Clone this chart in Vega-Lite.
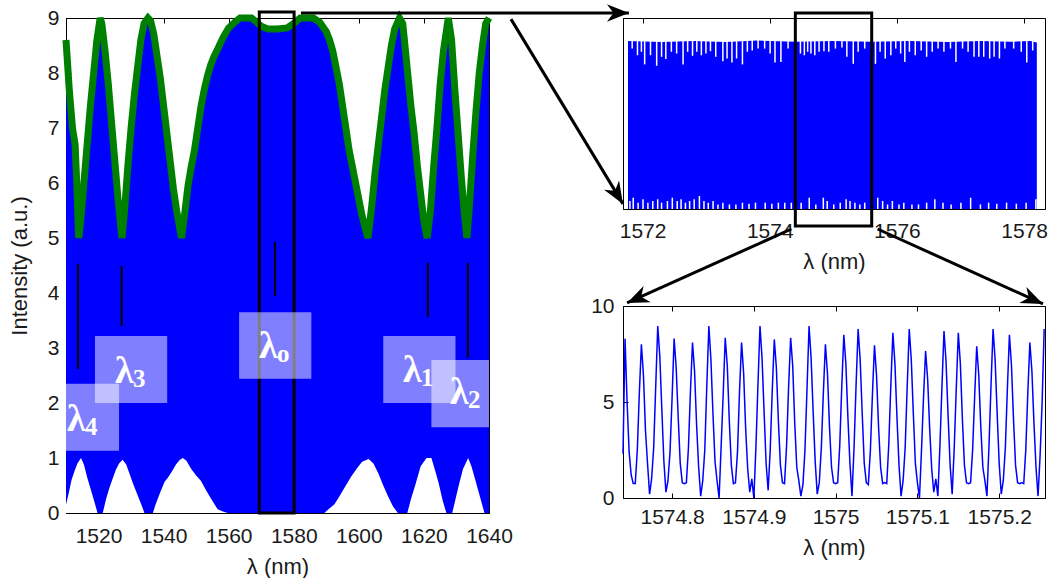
{
 "$schema": "https://vega.github.io/schema/vega-lite/v6.json",
 "background": "white",
 "padding": {"left": 7, "top": 3, "right": 0, "bottom": 0},
 "spacing": 134,
 "bounds": "flush",
 "config": {
  "view": {"stroke": "black", "strokeWidth": 1},
  "axis": {"labelFont": "Liberation Sans", "titleFont": "Liberation Sans", "labelFontSize": 21, "titleFontSize": 22, "titleFontWeight": "normal", "labelColor": "#1a1a1a", "titleColor": "#1a1a1a", "domainColor": "black", "tickColor": "black", "tickSize": -5, "grid": false, "zindex": 1, "labelOverlap": false, "labelFlush": false}
 },
 "datasets": {
  "upper": [{"wl":1510,"I":8.6},{"wl":1511,"I":7.7},{"wl":1512,"I":7.0},{"wl":1512.8,"I":6.7},{"wl":1513.3,"I":6.0},{"wl":1513.9,"I":5.0},{"wl":1514.5,"I":5.3},{"wl":1515.5,"I":6.0},{"wl":1516.5,"I":6.7},{"wl":1517.5,"I":7.4},{"wl":1518.5,"I":8.0},{"wl":1519.5,"I":8.6},{"wl":1520.5,"I":9.0},{"wl":1521,"I":8.9},{"wl":1522,"I":8.4},{"wl":1523,"I":7.8},{"wl":1524,"I":7.1},{"wl":1525,"I":6.4},{"wl":1526,"I":5.7},{"wl":1527.2,"I":5.0},{"wl":1528,"I":5.5},{"wl":1529,"I":6.3},{"wl":1530,"I":7.0},{"wl":1531,"I":7.6},{"wl":1532,"I":8.1},{"wl":1533,"I":8.6},{"wl":1534,"I":8.9},{"wl":1535.2,"I":9.0},{"wl":1536,"I":8.95},{"wl":1537,"I":8.7},{"wl":1538,"I":8.3},{"wl":1539,"I":7.9},{"wl":1540,"I":7.4},{"wl":1541,"I":6.9},{"wl":1542,"I":6.4},{"wl":1543,"I":5.9},{"wl":1544,"I":5.5},{"wl":1545.5,"I":5.0},{"wl":1546.5,"I":5.45},{"wl":1547.5,"I":5.95},{"wl":1548.5,"I":6.3},{"wl":1549.5,"I":6.6},{"wl":1550.5,"I":7.0},{"wl":1551.5,"I":7.4},{"wl":1552.5,"I":7.7},{"wl":1553.5,"I":7.95},{"wl":1554.5,"I":8.15},{"wl":1555.5,"I":8.3},{"wl":1556.5,"I":8.42},{"wl":1557.5,"I":8.55},{"wl":1558.5,"I":8.67},{"wl":1560,"I":8.82},{"wl":1562,"I":8.93},{"wl":1563.5,"I":9.0},{"wl":1567,"I":9.0},{"wl":1568.5,"I":8.93},{"wl":1570,"I":8.85},{"wl":1572,"I":8.8},{"wl":1575,"I":8.8},{"wl":1578,"I":8.82},{"wl":1580,"I":8.9},{"wl":1582,"I":9.0},{"wl":1586,"I":9.0},{"wl":1588,"I":8.92},{"wl":1590,"I":8.75},{"wl":1591,"I":8.6},{"wl":1592,"I":8.4},{"wl":1593,"I":8.1},{"wl":1594,"I":7.8},{"wl":1595,"I":7.4},{"wl":1596,"I":7.0},{"wl":1597,"I":6.6},{"wl":1598,"I":6.3},{"wl":1599,"I":6.0},{"wl":1600,"I":5.7},{"wl":1601,"I":5.4},{"wl":1602.8,"I":5.0},{"wl":1604,"I":5.6},{"wl":1605,"I":6.2},{"wl":1606,"I":6.7},{"wl":1607,"I":7.2},{"wl":1608,"I":7.7},{"wl":1609,"I":8.1},{"wl":1610,"I":8.5},{"wl":1611,"I":8.8},{"wl":1612.5,"I":9.0},{"wl":1613.5,"I":8.9},{"wl":1614,"I":8.6},{"wl":1615,"I":8.0},{"wl":1616,"I":7.4},{"wl":1617,"I":6.9},{"wl":1618,"I":6.3},{"wl":1619,"I":5.8},{"wl":1620,"I":5.3},{"wl":1621,"I":5.0},{"wl":1622,"I":5.5},{"wl":1623,"I":6.3},{"wl":1624,"I":7.0},{"wl":1625,"I":7.8},{"wl":1626,"I":8.4},{"wl":1627.5,"I":9.0},{"wl":1628.5,"I":8.6},{"wl":1629.5,"I":7.7},{"wl":1630.5,"I":6.9},{"wl":1631.5,"I":6.1},{"wl":1632.5,"I":5.4},{"wl":1633.2,"I":5.0},{"wl":1634,"I":5.6},{"wl":1635,"I":6.5},{"wl":1636,"I":7.3},{"wl":1637,"I":8.0},{"wl":1638,"I":8.5},{"wl":1639,"I":8.9},{"wl":1640,"I":9.0}],
  "lower": [{"wl":1510,"I":0.15},{"wl":1510.8,"I":0.35},{"wl":1511.7,"I":0.6},{"wl":1512.6,"I":0.76},{"wl":1513.5,"I":0.9},{"wl":1514.6,"I":1.0},{"wl":1515.5,"I":0.88},{"wl":1516.5,"I":0.65},{"wl":1517.5,"I":0.45},{"wl":1518.5,"I":0.25},{"wl":1519.7,"I":0},{"wl":1521.3,"I":0},{"wl":1522.3,"I":0.25},{"wl":1523.3,"I":0.45},{"wl":1524.3,"I":0.62},{"wl":1525.3,"I":0.78},{"wl":1526.3,"I":0.9},{"wl":1527.4,"I":0.97},{"wl":1528.5,"I":0.88},{"wl":1529.5,"I":0.72},{"wl":1530.5,"I":0.55},{"wl":1531.5,"I":0.4},{"wl":1532.5,"I":0.25},{"wl":1533.5,"I":0.1},{"wl":1534.1,"I":0},{"wl":1536.7,"I":0},{"wl":1537.5,"I":0.15},{"wl":1539,"I":0.38},{"wl":1540.3,"I":0.57},{"wl":1541.3,"I":0.64},{"wl":1542.5,"I":0.75},{"wl":1543.8,"I":0.88},{"wl":1545,"I":0.97},{"wl":1545.9,"I":1.0},{"wl":1547,"I":0.95},{"wl":1548.5,"I":0.8},{"wl":1550,"I":0.68},{"wl":1551.5,"I":0.58},{"wl":1553,"I":0.42},{"wl":1554.5,"I":0.27},{"wl":1556.6,"I":0.07},{"wl":1558,"I":0.03},{"wl":1559.7,"I":0},{"wl":1589.4,"I":0},{"wl":1590.5,"I":0.06},{"wl":1592.5,"I":0.16},{"wl":1594,"I":0.3},{"wl":1596,"I":0.5},{"wl":1597.7,"I":0.67},{"wl":1599.5,"I":0.82},{"wl":1601,"I":0.93},{"wl":1603,"I":0.98},{"wl":1604.5,"I":0.9},{"wl":1606,"I":0.72},{"wl":1607.5,"I":0.5},{"wl":1609,"I":0.3},{"wl":1610.5,"I":0.12},{"wl":1612,"I":0},{"wl":1614.9,"I":0},{"wl":1616,"I":0.25},{"wl":1617.3,"I":0.5},{"wl":1619,"I":0.85},{"wl":1620.8,"I":1.0},{"wl":1622.3,"I":1.0},{"wl":1623.3,"I":0.8},{"wl":1624.5,"I":0.55},{"wl":1625.8,"I":0.22},{"wl":1626.9,"I":0},{"wl":1628.7,"I":0},{"wl":1629.7,"I":0.25},{"wl":1630.7,"I":0.5},{"wl":1632,"I":0.8},{"wl":1633.6,"I":1.0},{"wl":1634.6,"I":0.85},{"wl":1635.8,"I":0.6},{"wl":1637.2,"I":0.3},{"wl":1638.6,"I":0},{"wl":1640,"I":0}],
  "markers": [{"wl":1513.7,"a":4.53,"b":2.62},{"wl":1527.1,"a":4.49,"b":3.4},{"wl":1574.2,"a":4.93,"b":3.95},{"wl":1621.2,"a":4.55,"b":3.56},{"wl":1633.5,"a":4.55,"b":2.82}],
  "boxes": [{"wl":1510,"wl2":1526.3,"I":1.13,"I2":2.35},{"wl":1518.9,"wl2":1541.1,"I":2.0,"I2":3.22},{"wl":1563.2,"wl2":1585.4,"I":2.44,"I2":3.65},{"wl":1607.5,"wl2":1629.7,"I":2.0,"I2":3.22},{"wl":1622.3,"wl2":1640,"I":1.56,"I2":2.78}],
  "labels": [{"wl":1510.3,"I":1.49,"sym":"λ","sub":"4"},{"wl":1525.06,"I":2.36,"sym":"λ","sub":"3"},{"wl":1569.3,"I":2.82,"sym":"λ","sub":"o"},{"wl":1613.6,"I":2.38,"sym":"λ","sub":"1"},{"wl":1628.0,"I":1.98,"sym":"λ","sub":"2"}],
  "arrL": [{"wl":1582.22,"I":9.09,"wl2":1683.0,"I2":9.09},{"wl":1646.76,"I":8.98,"wl2":1681.17,"I2":5.62}],
  "trTop": [{"wl":1571.77,"I":8.8},{"wl":1572.3,"I":8.75},{"wl":1572.8,"I":8.8},{"wl":1573.3,"I":8.74},{"wl":1573.8,"I":8.82},{"wl":1574.4,"I":8.76},{"wl":1575.0,"I":8.8},{"wl":1575.6,"I":8.76},{"wl":1576.2,"I":8.8},{"wl":1576.8,"I":8.74},{"wl":1577.3,"I":8.8},{"wl":1577.8,"I":8.76},{"wl":1578.1,"I":8.8},{"wl":1578.2,"I":8.72}],
  "trNotch": [{"wl":1571.836,"d":8.4,"t":8.9},{"wl":1571.919,"d":8.05,"t":8.9},{"wl":1571.981,"d":8.23,"t":8.9},{"wl":1572.032,"d":7.57,"t":8.9},{"wl":1572.124,"d":8.05,"t":8.9},{"wl":1572.221,"d":7.5,"t":8.9},{"wl":1572.298,"d":7.97,"t":8.9},{"wl":1572.365,"d":7.85,"t":8.9},{"wl":1572.452,"d":8.23,"t":8.9},{"wl":1572.535,"d":8.14,"t":8.9},{"wl":1572.636,"d":7.57,"t":8.9},{"wl":1572.708,"d":8.23,"t":8.9},{"wl":1572.785,"d":8.02,"t":8.9},{"wl":1572.852,"d":8.23,"t":8.9},{"wl":1572.924,"d":8.05,"t":8.9},{"wl":1572.996,"d":8.14,"t":8.9},{"wl":1573.067,"d":8.26,"t":8.9},{"wl":1573.15,"d":7.97,"t":8.9},{"wl":1573.262,"d":7.74,"t":8.9},{"wl":1573.328,"d":7.88,"t":8.9},{"wl":1573.405,"d":7.67,"t":8.9},{"wl":1573.478,"d":7.88,"t":8.9},{"wl":1573.57,"d":7.57,"t":8.9},{"wl":1573.647,"d":8.23,"t":8.9},{"wl":1573.724,"d":8.3,"t":8.9},{"wl":1573.816,"d":8.4,"t":8.9},{"wl":1573.919,"d":8.4,"t":8.9},{"wl":1574.005,"d":8.14,"t":8.9},{"wl":1574.082,"d":7.67,"t":8.9},{"wl":1574.175,"d":7.7,"t":8.9},{"wl":1574.288,"d":8.4,"t":8.9},{"wl":1574.482,"d":8.14,"t":8.9},{"wl":1574.544,"d":8.05,"t":8.9},{"wl":1574.596,"d":8.23,"t":8.9},{"wl":1574.647,"d":8.14,"t":8.9},{"wl":1574.708,"d":8.05,"t":8.9},{"wl":1574.775,"d":8.23,"t":8.9},{"wl":1574.852,"d":8.26,"t":8.9},{"wl":1574.928,"d":8.23,"t":8.9},{"wl":1575.032,"d":8.4,"t":8.9},{"wl":1575.135,"d":8.45,"t":8.9},{"wl":1575.212,"d":7.97,"t":8.9},{"wl":1575.313,"d":7.6,"t":8.9},{"wl":1575.39,"d":8.23,"t":8.9},{"wl":1575.493,"d":8.4,"t":8.9},{"wl":1575.662,"d":7.6,"t":8.9},{"wl":1575.735,"d":8.23,"t":8.9},{"wl":1575.816,"d":7.88,"t":8.9},{"wl":1575.904,"d":8.05,"t":8.9},{"wl":1575.981,"d":8.4,"t":8.9},{"wl":1576.058,"d":8.14,"t":8.9},{"wl":1576.124,"d":7.7,"t":8.9},{"wl":1576.196,"d":8.23,"t":8.9},{"wl":1576.288,"d":8.05,"t":8.9},{"wl":1576.381,"d":8.3,"t":8.9},{"wl":1576.467,"d":7.97,"t":8.9},{"wl":1576.555,"d":8.23,"t":8.9},{"wl":1576.647,"d":8.4,"t":8.9},{"wl":1576.739,"d":8.23,"t":8.9},{"wl":1576.842,"d":8.4,"t":8.9},{"wl":1576.928,"d":7.7,"t":8.9},{"wl":1577.032,"d":8.4,"t":8.9},{"wl":1577.119,"d":8.23,"t":8.9},{"wl":1577.212,"d":7.97,"t":8.9},{"wl":1577.288,"d":7.97,"t":8.9},{"wl":1577.365,"d":7.97,"t":8.9},{"wl":1577.458,"d":7.88,"t":8.9},{"wl":1577.528,"d":7.97,"t":8.9},{"wl":1577.612,"d":7.88,"t":8.9},{"wl":1577.698,"d":8.4,"t":8.9},{"wl":1577.836,"d":8.4,"t":8.9},{"wl":1577.955,"d":8.23,"t":8.9},{"wl":1578.042,"d":7.67,"t":8.9},{"wl":1578.135,"d":8.3,"t":8.9}],
  "trLow": [{"wl":1571.8,"h":0.42},{"wl":1571.852,"h":0.59},{"wl":1571.929,"h":0.33},{"wl":1572.006,"h":0.51},{"wl":1572.083,"h":0.33},{"wl":1572.16,"h":0.42},{"wl":1572.237,"h":0.51},{"wl":1572.298,"h":0.33},{"wl":1572.39,"h":0.42},{"wl":1572.467,"h":0.59},{"wl":1572.544,"h":0.42},{"wl":1572.605,"h":0.51},{"wl":1572.673,"h":0.33},{"wl":1572.739,"h":0.42},{"wl":1572.811,"h":0.51},{"wl":1572.893,"h":0.68},{"wl":1572.965,"h":0.42},{"wl":1573.032,"h":0.33},{"wl":1573.108,"h":0.42},{"wl":1573.185,"h":0.24},{"wl":1573.262,"h":0.33},{"wl":1573.365,"h":0.24},{"wl":1573.467,"h":0.24},{"wl":1573.57,"h":0.33},{"wl":1573.673,"h":0.28},{"wl":1573.775,"h":0.33},{"wl":1573.928,"h":0.33},{"wl":1574.032,"h":0.28},{"wl":1574.135,"h":0.33},{"wl":1574.236,"h":0.33},{"wl":1574.339,"h":0.33},{"wl":1574.493,"h":0.33},{"wl":1574.621,"h":0.59},{"wl":1574.724,"h":0.24},{"wl":1574.842,"h":0.59},{"wl":1574.903,"h":0.42},{"wl":1575.006,"h":0.24},{"wl":1575.108,"h":0.33},{"wl":1575.201,"h":0.51},{"wl":1575.262,"h":0.42},{"wl":1575.339,"h":0.33},{"wl":1575.416,"h":0.24},{"wl":1575.493,"h":0.33},{"wl":1575.698,"h":0.59},{"wl":1575.775,"h":0.42},{"wl":1575.852,"h":0.24},{"wl":1575.928,"h":0.42},{"wl":1576.032,"h":0.24},{"wl":1576.108,"h":0.33},{"wl":1576.236,"h":0.24},{"wl":1576.339,"h":0.24},{"wl":1576.467,"h":0.33},{"wl":1576.596,"h":0.51},{"wl":1576.724,"h":0.33},{"wl":1576.852,"h":0.24},{"wl":1577.006,"h":0.33},{"wl":1577.159,"h":0.59},{"wl":1577.313,"h":0.24},{"wl":1577.442,"h":0.33},{"wl":1577.57,"h":0.28},{"wl":1577.724,"h":0.33},{"wl":1577.878,"h":0.28},{"wl":1578.032,"h":0.33},{"wl":1578.185,"h":0.51}],
  "br": [{"x":1574.74,"y":2.3},{"x":1574.7425,"y":8.3},{"x":1574.745,"y":5.0},{"x":1574.7475,"y":2.4},{"x":1574.75,"y":1.2},{"x":1574.7525,"y":0.75},{"x":1574.755,"y":0.75},{"x":1574.7575,"y":2.5},{"x":1574.76,"y":5.5},{"x":1574.7625,"y":8.0},{"x":1574.765,"y":6.4},{"x":1574.7675,"y":3.5},{"x":1574.77,"y":1.8},{"x":1574.7725,"y":0.2},{"x":1574.775,"y":1.0},{"x":1574.7775,"y":2.6},{"x":1574.78,"y":5.8},{"x":1574.7825,"y":8.96},{"x":1574.785,"y":7.4},{"x":1574.7875,"y":4.6},{"x":1574.79,"y":1.9},{"x":1574.7925,"y":0.3},{"x":1574.795,"y":0.9},{"x":1574.7975,"y":2.4},{"x":1574.8,"y":5.2},{"x":1574.8025,"y":8.3},{"x":1574.805,"y":6.8},{"x":1574.8075,"y":4.2},{"x":1574.81,"y":1.8},{"x":1574.8125,"y":0.8},{"x":1574.815,"y":0.75},{"x":1574.8175,"y":0.8},{"x":1574.82,"y":2.6},{"x":1574.8225,"y":5.6},{"x":1574.825,"y":8.1},{"x":1574.8275,"y":6.6},{"x":1574.83,"y":3.8},{"x":1574.8325,"y":1.6},{"x":1574.835,"y":0.1},{"x":1574.8375,"y":0.9},{"x":1574.84,"y":2.5},{"x":1574.8425,"y":5.9},{"x":1574.845,"y":8.96},{"x":1574.8475,"y":7.2},{"x":1574.85,"y":4.4},{"x":1574.8525,"y":1.9},{"x":1574.855,"y":0.9},{"x":1574.8575,"y":0.0},{"x":1574.86,"y":2.7},{"x":1574.8625,"y":5.4},{"x":1574.865,"y":8.35},{"x":1574.8675,"y":6.9},{"x":1574.87,"y":4.0},{"x":1574.8725,"y":1.7},{"x":1574.875,"y":0.75},{"x":1574.8775,"y":0.8},{"x":1574.88,"y":2.4},{"x":1574.8825,"y":5.6},{"x":1574.885,"y":8.1},{"x":1574.8875,"y":6.5},{"x":1574.89,"y":3.6},{"x":1574.8925,"y":1.5},{"x":1574.895,"y":0.3},{"x":1574.8975,"y":1.0},{"x":1574.9,"y":0.0},{"x":1574.9025,"y":2.6},{"x":1574.905,"y":5.9},{"x":1574.9075,"y":8.96},{"x":1574.91,"y":7.3},{"x":1574.9125,"y":4.5},{"x":1574.915,"y":1.8},{"x":1574.9175,"y":0.4},{"x":1574.92,"y":2.5},{"x":1574.9225,"y":5.6},{"x":1574.925,"y":8.26},{"x":1574.9275,"y":6.8},{"x":1574.93,"y":4.0},{"x":1574.9325,"y":1.7},{"x":1574.935,"y":0.8},{"x":1574.9375,"y":0.75},{"x":1574.94,"y":2.7},{"x":1574.9425,"y":5.8},{"x":1574.945,"y":8.35},{"x":1574.9475,"y":6.9},{"x":1574.95,"y":3.9},{"x":1574.9525,"y":1.6},{"x":1574.955,"y":0.9},{"x":1574.9575,"y":0.1},{"x":1574.96,"y":0.7},{"x":1574.9625,"y":2.5},{"x":1574.965,"y":5.7},{"x":1574.9675,"y":8.96},{"x":1574.97,"y":7.3},{"x":1574.9725,"y":4.5},{"x":1574.975,"y":1.9},{"x":1574.9775,"y":0.2},{"x":1574.98,"y":0.8},{"x":1574.9825,"y":2.6},{"x":1574.985,"y":5.5},{"x":1574.9875,"y":8.0},{"x":1574.99,"y":6.5},{"x":1574.9925,"y":3.7},{"x":1574.995,"y":1.6},{"x":1574.9975,"y":0.8},{"x":1575.0,"y":0.75},{"x":1575.0025,"y":0.8},{"x":1575.005,"y":2.7},{"x":1575.0075,"y":5.8},{"x":1575.01,"y":8.5},{"x":1575.0125,"y":7.0},{"x":1575.015,"y":4.2},{"x":1575.0175,"y":1.8},{"x":1575.02,"y":0.1},{"x":1575.0225,"y":2.6},{"x":1575.025,"y":5.9},{"x":1575.0275,"y":8.8},{"x":1575.03,"y":7.2},{"x":1575.0325,"y":4.4},{"x":1575.035,"y":1.8},{"x":1575.0375,"y":0.8},{"x":1575.04,"y":0.7},{"x":1575.0425,"y":2.5},{"x":1575.045,"y":5.4},{"x":1575.0475,"y":7.95},{"x":1575.05,"y":6.4},{"x":1575.0525,"y":3.7},{"x":1575.055,"y":1.6},{"x":1575.0575,"y":0.75},{"x":1575.06,"y":0.8},{"x":1575.0625,"y":0.75},{"x":1575.065,"y":2.8},{"x":1575.0675,"y":5.9},{"x":1575.07,"y":8.6},{"x":1575.0725,"y":7.0},{"x":1575.075,"y":4.2},{"x":1575.0775,"y":1.7},{"x":1575.08,"y":0.1},{"x":1575.0825,"y":0.9},{"x":1575.085,"y":2.6},{"x":1575.0875,"y":5.8},{"x":1575.09,"y":8.8},{"x":1575.0925,"y":7.2},{"x":1575.095,"y":4.4},{"x":1575.0975,"y":1.8},{"x":1575.1,"y":0.8},{"x":1575.1025,"y":0.0},{"x":1575.105,"y":2.5},{"x":1575.1075,"y":5.3},{"x":1575.11,"y":7.65},{"x":1575.1125,"y":6.2},{"x":1575.115,"y":3.6},{"x":1575.1175,"y":1.5},{"x":1575.12,"y":0.3},{"x":1575.1225,"y":1.0},{"x":1575.125,"y":0.1},{"x":1575.1275,"y":2.7},{"x":1575.13,"y":5.8},{"x":1575.1325,"y":8.7},{"x":1575.135,"y":7.1},{"x":1575.1375,"y":4.3},{"x":1575.14,"y":1.7},{"x":1575.1425,"y":0.2},{"x":1575.145,"y":2.6},{"x":1575.1475,"y":5.7},{"x":1575.15,"y":8.6},{"x":1575.1525,"y":7.0},{"x":1575.155,"y":4.1},{"x":1575.1575,"y":1.7},{"x":1575.16,"y":0.8},{"x":1575.1625,"y":0.75},{"x":1575.165,"y":0.8},{"x":1575.1675,"y":2.5},{"x":1575.17,"y":5.3},{"x":1575.1725,"y":7.9},{"x":1575.175,"y":6.4},{"x":1575.1775,"y":3.7},{"x":1575.18,"y":1.6},{"x":1575.1825,"y":0.9},{"x":1575.185,"y":0.1},{"x":1575.1875,"y":2.7},{"x":1575.19,"y":5.9},{"x":1575.1925,"y":8.8},{"x":1575.195,"y":7.2},{"x":1575.1975,"y":4.4},{"x":1575.2,"y":1.8},{"x":1575.2025,"y":0.2},{"x":1575.205,"y":0.9},{"x":1575.2075,"y":2.6},{"x":1575.21,"y":5.7},{"x":1575.2125,"y":8.5},{"x":1575.215,"y":6.9},{"x":1575.2175,"y":4.1},{"x":1575.22,"y":1.7},{"x":1575.2225,"y":0.8},{"x":1575.225,"y":0.75},{"x":1575.2275,"y":0.8},{"x":1575.23,"y":0.75},{"x":1575.2325,"y":2.5},{"x":1575.235,"y":5.5},{"x":1575.2375,"y":8.1},{"x":1575.24,"y":6.6},{"x":1575.2425,"y":3.9},{"x":1575.245,"y":1.6},{"x":1575.2475,"y":0.1},{"x":1575.25,"y":2.2},{"x":1575.2525,"y":5.0},{"x":1575.255,"y":8.8}]
 },
 "hconcat": [
  {
   "width": 423, "height": 495,
   "resolve": {"axis": {"x": "independent"}},
   "layer": [
    {
     "layer": [
      {"data": {"name": "upper"}, "mark": {"type": "area", "color": "#0000ff"},
       "encoding": {
        "x": {"field": "wl", "type": "quantitative", "scale": {"domain": [1510, 1640], "zero": false, "nice": false}, "axis": {"values": [1520,1540,1560,1580,1600,1620,1640], "format": "d", "title": "λ (nm)", "labelPadding": 17, "titlePadding": 10}},
        "y": {"field": "I", "type": "quantitative", "scale": {"domain": [0, 9], "zero": false, "nice": false}, "axis": {"values": [0,1,2,3,4,5,6,7,8,9], "format": "d", "title": "Intensity (a.u.)", "labelPadding": 12, "titlePadding": 16}}
       }},
      {"data": {"name": "lower"}, "mark": {"type": "area", "color": "white"},
       "encoding": {"x": {"field": "wl", "type": "quantitative"}, "y": {"field": "I", "type": "quantitative"}}},
      {"data": {"name": "upper"}, "mark": {"type": "line", "color": "#008000", "strokeWidth": 7},
       "encoding": {"x": {"field": "wl", "type": "quantitative"}, "y": {"field": "I", "type": "quantitative"}}},
      {"data": {"name": "markers"}, "mark": {"type": "rule", "color": "black", "strokeWidth": 2},
       "encoding": {"x": {"field": "wl", "type": "quantitative"}, "y": {"field": "a", "type": "quantitative"}, "y2": {"field": "b"}}},
      {"data": {"values": [{"wl": 1569.4, "wl2": 1580.1, "I": 0, "I2": 9.11}]}, "mark": {"type": "rect", "fill": "white", "fillOpacity": 0, "stroke": "black", "strokeWidth": 3},
       "encoding": {"x": {"field": "wl", "type": "quantitative"}, "x2": {"field": "wl2"}, "y": {"field": "I", "type": "quantitative"}, "y2": {"field": "I2"}}},
      {"data": {"name": "boxes"}, "mark": {"type": "rect", "color": "white", "opacity": 0.5},
       "encoding": {"x": {"field": "wl", "type": "quantitative"}, "x2": {"field": "wl2"}, "y": {"field": "I", "type": "quantitative"}, "y2": {"field": "I2"}}},
      {"data": {"name": "labels"}, "mark": {"type": "text", "align": "left", "baseline": "alphabetic", "font": "Liberation Serif", "fontSize": 38, "fontWeight": "bold", "color": "white"},
       "encoding": {"x": {"field": "wl", "type": "quantitative"}, "y": {"field": "I", "type": "quantitative"}, "text": {"field": "sym"}}},
      {"data": {"name": "labels"}, "mark": {"type": "text", "align": "left", "baseline": "alphabetic", "font": "Liberation Serif", "fontSize": 25, "fontWeight": "bold", "color": "white", "dx": 18, "dy": 4},
       "encoding": {"x": {"field": "wl", "type": "quantitative"}, "y": {"field": "I", "type": "quantitative"}, "text": {"field": "sub"}}},
      {"data": {"name": "arrL"}, "mark": {"type": "rule", "color": "black", "strokeWidth": 3},
       "encoding": {"x": {"field": "wl", "type": "quantitative"}, "y": {"field": "I", "type": "quantitative"}, "x2": {"field": "wl2"}, "y2": {"field": "I2"}}},
      {"data": {"values": [{"wl": 1683.0, "I": 9.09}]}, "mark": {"type": "point", "shape": "M0,0L-1,-0.4L-0.7,0L-1,0.4Z", "size": 1936, "filled": true, "color": "black", "opacity": 1, "angle": 0},
       "encoding": {"x": {"field": "wl", "type": "quantitative"}, "y": {"field": "I", "type": "quantitative"}}},
      {"data": {"values": [{"wl": 1681.17, "I": 5.62}]}, "mark": {"type": "point", "shape": "M0,0L-1,-0.4L-0.7,0L-1,0.4Z", "size": 1936, "filled": true, "color": "black", "opacity": 1, "angle": 58.8},
       "encoding": {"x": {"field": "wl", "type": "quantitative"}, "y": {"field": "I", "type": "quantitative"}}}
     ]
    },
    {"data": {"values": [{"wl": 1510}]}, "mark": {"type": "point", "opacity": 0},
     "encoding": {"x": {"field": "wl", "type": "quantitative", "scale": {"domain": [1510, 1640], "zero": false, "nice": false}, "axis": {"orient": "top", "values": [1520,1540,1560,1580,1600,1620,1640], "labels": false, "title": null}}}}
   ]
  },
  {
   "vconcat": [
    {
     "width": 422, "height": 191,
     "resolve": {"axis": {"x": "independent"}},
     "layer": [
      {
       "layer": [
        {"data": {"name": "trTop"}, "mark": {"type": "area", "color": "#0000ff"},
         "encoding": {
          "x": {"field": "wl", "type": "quantitative", "scale": {"domain": [1571.77, 1578.25], "zero": false, "nice": false}, "axis": {"values": [1572,1574,1576,1578], "format": "d", "title": "λ (nm)", "labelPadding": 16, "titlePadding": 10}},
          "y": {"field": "I", "type": "quantitative", "scale": {"domain": [0, 10], "zero": false, "nice": false}, "axis": null}
         }},
        {"data": {"name": "trNotch"}, "mark": {"type": "rule", "color": "white", "strokeWidth": 1.5},
         "encoding": {"x": {"field": "wl", "type": "quantitative"}, "y": {"field": "d", "type": "quantitative"}, "y2": {"field": "t"}}},
        {"data": {"name": "trLow"}, "mark": {"type": "bar", "color": "white", "size": 1.5},
         "encoding": {"x": {"field": "wl", "type": "quantitative"}, "y": {"field": "h", "type": "quantitative"}}},
        {"data": {"values": [{"wl": 1574.402, "wl2": 1575.603, "I": -0.89, "I2": 10.26}]}, "mark": {"type": "rect", "fill": "white", "fillOpacity": 0, "stroke": "black", "strokeWidth": 3},
         "encoding": {"x": {"field": "wl", "type": "quantitative"}, "x2": {"field": "wl2"}, "y": {"field": "I", "type": "quantitative"}, "y2": {"field": "I2"}}},
        {"data": {"values": [{"wl": 1574.34, "I": -1.047, "wl2": 1571.755, "I2": -4.92}, {"wl": 1575.695, "I": -1.047, "wl2": 1578.296, "I2": -4.97}]}, "mark": {"type": "rule", "color": "black", "strokeWidth": 3},
         "encoding": {"x": {"field": "wl", "type": "quantitative"}, "y": {"field": "I", "type": "quantitative"}, "x2": {"field": "wl2"}, "y2": {"field": "I2"}}},
        {"data": {"values": [{"wl": 1571.755, "I": -4.92}]}, "mark": {"type": "point", "shape": "M0,0L-1,-0.4L-0.7,0L-1,0.4Z", "size": 1936, "filled": true, "color": "black", "opacity": 1, "angle": 156.2},
         "encoding": {"x": {"field": "wl", "type": "quantitative"}, "y": {"field": "I", "type": "quantitative"}}},
        {"data": {"values": [{"wl": 1578.296, "I": -4.97}]}, "mark": {"type": "point", "shape": "M0,0L-1,-0.4L-0.7,0L-1,0.4Z", "size": 1936, "filled": true, "color": "black", "opacity": 1, "angle": 23.9},
         "encoding": {"x": {"field": "wl", "type": "quantitative"}, "y": {"field": "I", "type": "quantitative"}}}
       ]
      },
      {"data": {"values": [{"wl": 1572}]}, "mark": {"type": "point", "opacity": 0},
       "encoding": {"x": {"field": "wl", "type": "quantitative", "scale": {"domain": [1571.77, 1578.25], "zero": false, "nice": false}, "axis": {"orient": "top", "values": [1572,1574,1576,1578], "labels": false, "title": null}}}}
     ]
    },
    {
     "width": 422, "height": 192,
     "resolve": {"axis": {"x": "independent"}},
     "layer": [
      {"data": {"name": "br"}, "mark": {"type": "line", "color": "#0000ff", "strokeWidth": 1.5},
       "encoding": {
        "x": {"field": "x", "type": "quantitative", "scale": {"domain": [1574.74, 1575.256], "zero": false, "nice": false}, "axis": {"values": [1574.8,1574.9,1575,1575.1,1575.2], "format": "~r", "title": "λ (nm)", "labelPadding": 13, "titlePadding": 10}},
        "y": {"field": "y", "type": "quantitative", "scale": {"domain": [0, 10], "zero": false, "nice": false}, "axis": {"values": [0,5,10], "title": null, "labelPadding": 14}}
       }},
      {"data": {"values": [{"x": 1575}]}, "mark": {"type": "point", "opacity": 0},
       "encoding": {"x": {"field": "x", "type": "quantitative", "scale": {"domain": [1574.74, 1575.256], "zero": false, "nice": false}, "axis": {"orient": "top", "values": [1574.8,1574.9,1575,1575.1,1575.2], "labels": false, "title": null}}}}
     ]
    }
   ],
   "spacing": 97,
   "bounds": "flush"
  }
 ]
}
